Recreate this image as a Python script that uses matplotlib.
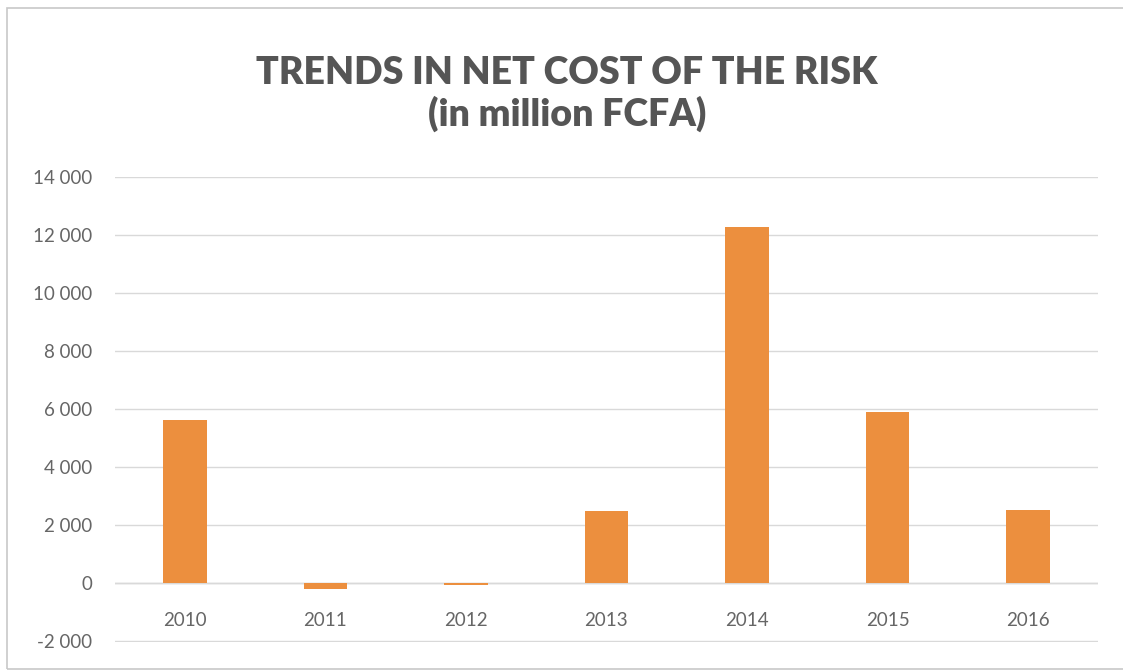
import matplotlib.pyplot as plt
from matplotlib.patches import Rectangle

years = ['2010', '2011', '2012', '2013', '2014', '2015', '2016']
net_cost = [5620, -200, -80, 2480, 12280, 5900, 2520]
y_ticks = [-2000, 0, 2000, 4000, 6000, 8000, 10000, 12000, 14000]
y_labels = ['-2 000', '0', '2 000', '4 000', '6 000', '8 000', '10 000', '12 000', '14 000']

title_grey = '#555555'
label_grey = '#666666'
bar_orange = '#EC8F3E'

fig = plt.figure(figsize=(11.23, 6.72), dpi=100)
ax = fig.add_axes([0.102, 0.044, 0.876, 0.6925])

x = range(len(years))
ax.bar(x, net_cost, width=0.31, color=bar_orange, zorder=3)

ax.set_xlim(-0.5, len(years) - 0.5)
ax.set_ylim(-2045, 14000)
ax.set_yticks(y_ticks)
ax.set_yticklabels(y_labels, family='Lato')
ax.set_xticks(list(x))
ax.set_xticklabels([])
ax.tick_params(axis='both', length=0, labelsize=13.5, labelcolor=label_grey)
ax.tick_params(axis='y', pad=16)

ax.grid(axis='y', color='#d9d9d9', linewidth=1, zorder=0)
for side in ax.spines.values():
    side.set_visible(False)
ax.axhline(0, color='#d0d0d0', linewidth=1, zorder=1)

# year labels hang just below the zero line
for i, yr in enumerate(years):
    ax.text(i, -1300, yr, ha='center', va='center',
            fontsize=13.5, color=label_grey, family='Lato')

fig.text(0.505, 0.892, 'TRENDS IN NET COST OF THE RISK', ha='center', va='center',
         fontsize=27, fontweight='heavy', color=title_grey, family='Lato')
fig.text(0.505, 0.830, '(in million FCFA)', ha='center', va='center',
         fontsize=27, fontweight='heavy', color=title_grey, family='Lato')

# thin frame around the chart
fig.patches.append(Rectangle((0.006, 0.004), 1.2, 0.984, transform=fig.transFigure,
                             fill=False, edgecolor='#c8c8c8', linewidth=1.2))

fig.savefig('out.png', dpi=100)
